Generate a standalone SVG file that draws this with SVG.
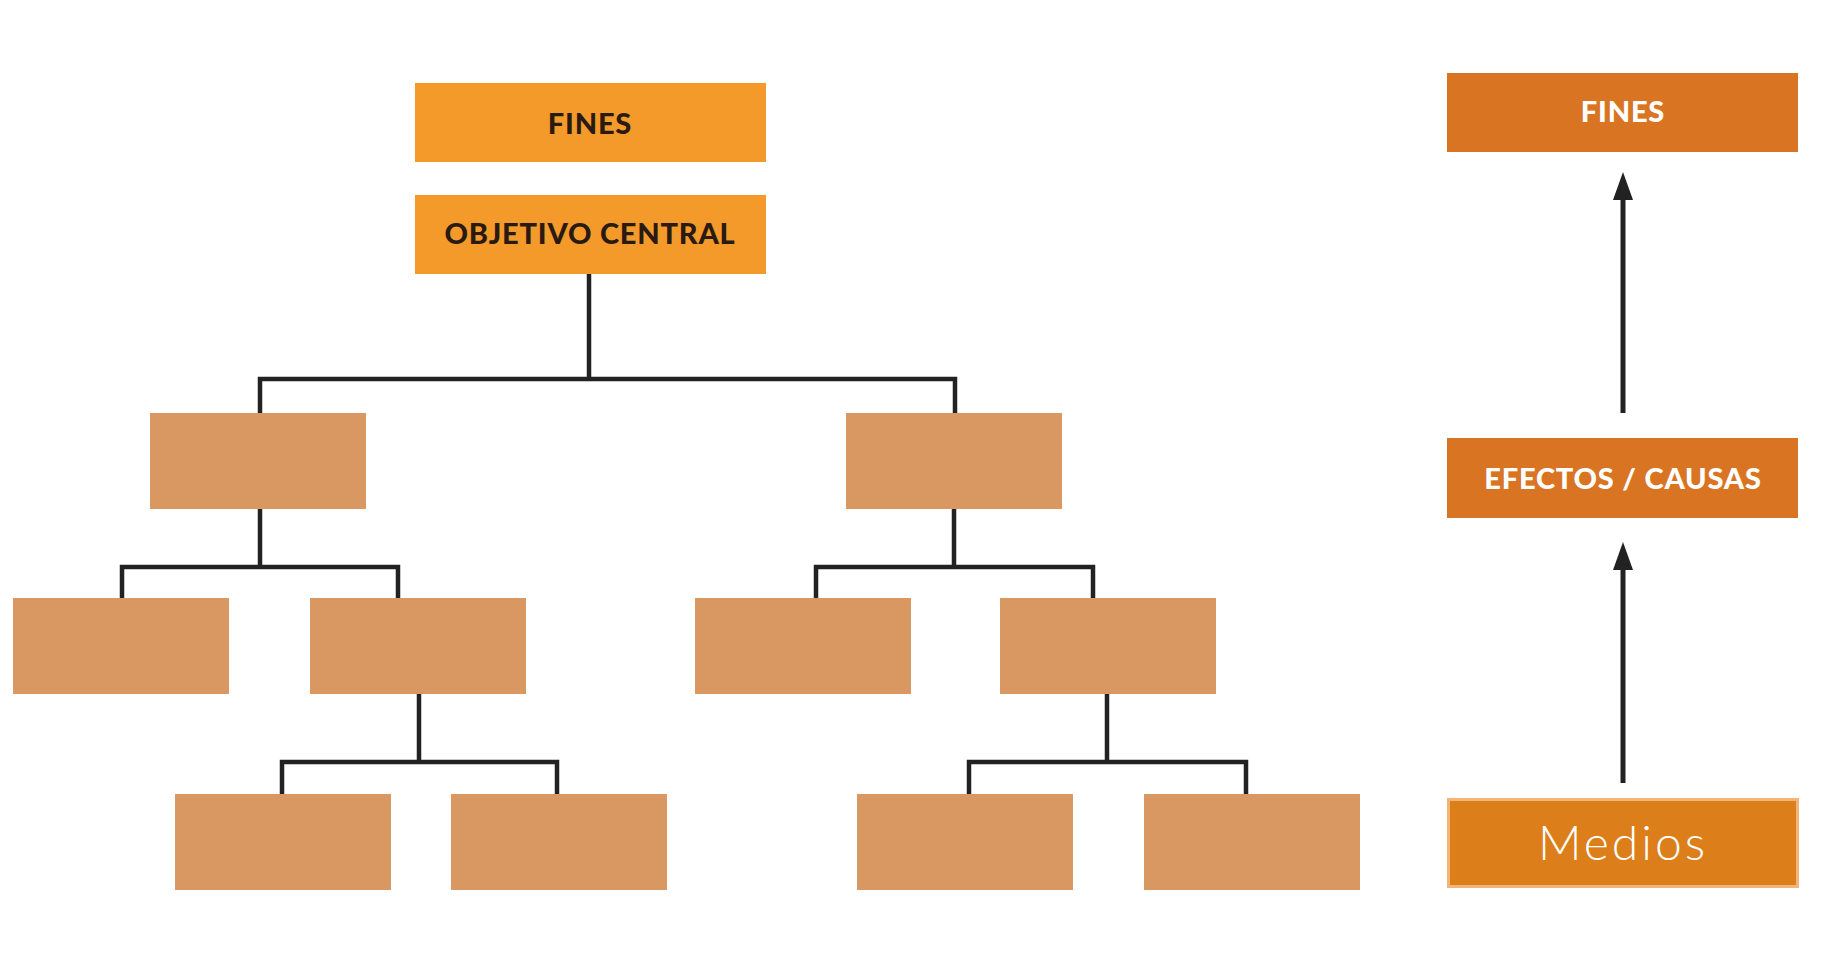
<svg xmlns="http://www.w3.org/2000/svg" width="1847" height="960" viewBox="0 0 1847 960">
  <defs>
    <style>
      .top { fill: #F39A2B; }
      .leaf { fill: #D99862; }
      .side { fill: #D97422; }
      .conn { fill: none; stroke: #222222; stroke-width: 4.5; stroke-linejoin: miter; stroke-linecap: butt; }
      .arrow { fill: none; stroke: #222222; stroke-width: 5; }
      .darklabel { font-family: Lato, "Liberation Sans", sans-serif; font-weight: 900; font-size: 29px; letter-spacing: 0.8px; fill: #2A1A12; text-anchor: middle; }
      .whitelabel { font-family: Lato, "Liberation Sans", sans-serif; font-weight: 900; font-size: 29px; letter-spacing: 0.8px; fill: #FFFFFF; text-anchor: middle; }
      .medios { font-family: Lato, "Liberation Sans", sans-serif; font-weight: 300; font-size: 48px; letter-spacing: 3px; fill: #FFFFFF; text-anchor: middle; }
    </style>
  </defs>
  <rect x="0" y="0" width="1847" height="960" fill="#FFFFFF"/>

  <g id="connectors">
    <path class="conn" d="M589,273 V379 M260,413 V379 H955 V413"/>
    <path class="conn" d="M260,509 V567 M122,598 V567 H398 V598"/>
    <path class="conn" d="M419,694 V762 M282,794 V762 H557 V794"/>
    <path class="conn" d="M954,509 V567 M816,598 V567 H1093 V598"/>
    <path class="conn" d="M1107,694 V762 M969,794 V762 H1246 V794"/>
    <line class="arrow" x1="1623" y1="413" x2="1623" y2="196"/>
    <path d="M1623,172 L1633,200 L1613,200 Z" fill="#222222"/>
    <line class="arrow" x1="1623" y1="783" x2="1623" y2="566"/>
    <path d="M1623,542 L1633,570 L1613,570 Z" fill="#222222"/>
  </g>

  <g id="fines-top">
    <rect class="top" x="415" y="83" width="351" height="79"/>
    <text class="darklabel" x="590" y="134">FINES</text>
  </g>
  <g id="objetivo-central">
    <rect class="top" x="415" y="195" width="351" height="79"/>
    <text class="darklabel" x="590" y="244">OBJETIVO CENTRAL</text>
  </g>

  <g id="n1-left"><rect class="leaf" x="150" y="413" width="216" height="96"/></g>
  <g id="n1-right"><rect class="leaf" x="846" y="413" width="216" height="96"/></g>

  <g id="n2-a"><rect class="leaf" x="13" y="598" width="216" height="96"/></g>
  <g id="n2-b"><rect class="leaf" x="310" y="598" width="216" height="96"/></g>
  <g id="n2-c"><rect class="leaf" x="695" y="598" width="216" height="96"/></g>
  <g id="n2-d"><rect class="leaf" x="1000" y="598" width="216" height="96"/></g>

  <g id="n3-a"><rect class="leaf" x="175" y="794" width="216" height="96"/></g>
  <g id="n3-b"><rect class="leaf" x="451" y="794" width="216" height="96"/></g>
  <g id="n3-c"><rect class="leaf" x="857" y="794" width="216" height="96"/></g>
  <g id="n3-d"><rect class="leaf" x="1144" y="794" width="216" height="96"/></g>

  <g id="fines-side">
    <rect class="side" x="1447" y="73" width="351" height="79"/>
    <text class="whitelabel" x="1623" y="122">FINES</text>
  </g>
  <g id="efectos-causas">
    <rect class="side" x="1447" y="438" width="351" height="80"/>
    <text class="whitelabel" x="1623" y="489">EFECTOS / CAUSAS</text>
  </g>
  <g id="medios">
    <rect x="1448.5" y="799.5" width="349" height="87" fill="#DC7E1A" stroke="#F2B577" stroke-width="3"/>
    <text class="medios" x="1623" y="860">Medios</text>
  </g>
</svg>
